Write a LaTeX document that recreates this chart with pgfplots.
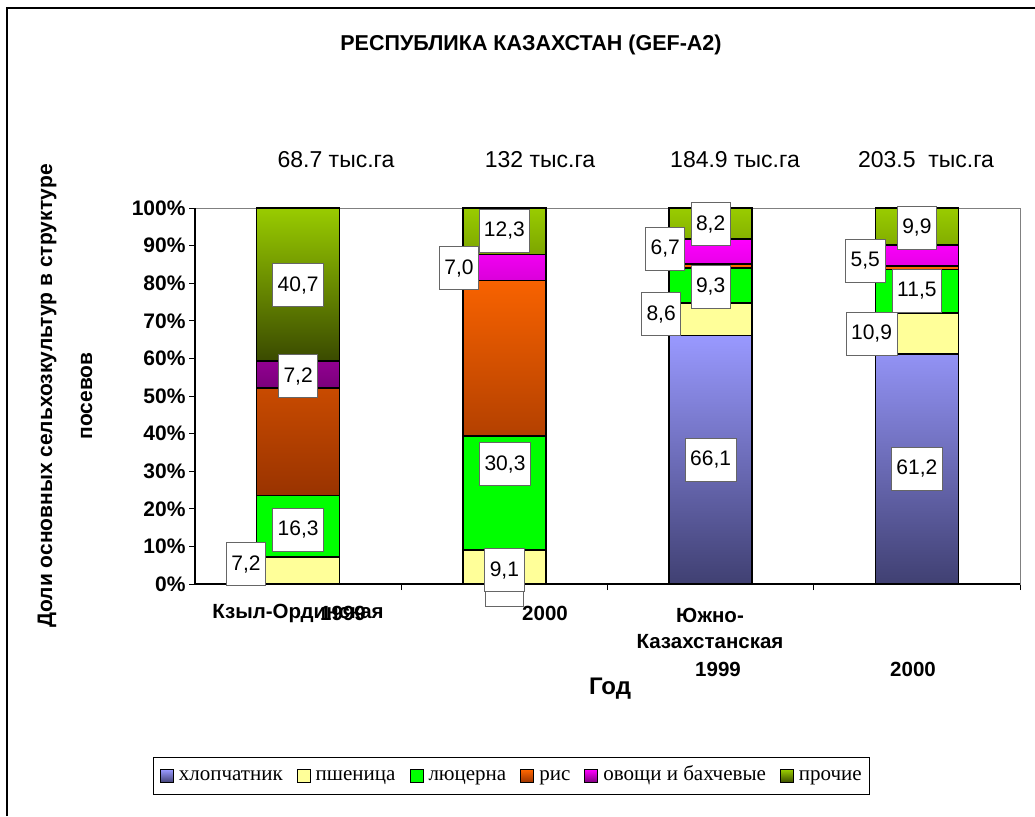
\documentclass[border=0pt]{standalone}
\usepackage{pgfplots}
\pgfplotsset{compat=1.18}
\usepackage{fontspec}
\setmainfont{Liberation Sans}
\newfontfamily\timesf{Liberation Serif}
\definecolor{cotT}{HTML}{9999FF}
\definecolor{cotB}{HTML}{404072}
\definecolor{wheat}{HTML}{FFFF99}
\definecolor{alf}{HTML}{00FF00}
\definecolor{riceT}{HTML}{FF6600}
\definecolor{riceB}{HTML}{993300}
\definecolor{vegT}{HTML}{FF00FF}
\definecolor{vegB}{HTML}{7A007A}
\definecolor{othT}{HTML}{99CC00}
\definecolor{othB}{HTML}{3A4A00}
\tikzset{lbl/.style={draw=black!60, line width=0.8pt, fill=white, minimum height=43pt, inner xsep=5pt, font=\fontsize{21}{23}\selectfont}}
\pgfplotsset{leg/.style={legend image code/.code={\draw[##1,draw=black,line width=1pt] (0pt,-6.5pt) rectangle (13pt,6.5pt);}}}
\begin{document}
\begin{tikzpicture}[x=1pt,y=1pt]
\useasboundingbox (0,0) rectangle (1035,-816);
\draw[line width=1.5pt] (7,-816) -- (7,-8) -- (1035,-8);
\begin{axis}[
  at={(195pt,-584pt)}, anchor=south west,
  scale only axis, width=825pt, height=376pt,
  ybar stacked, bar width=83pt,
  xmin=-0.5, xmax=3.5, ymin=0, ymax=100,
  xtick={0.5,1.5,2.5,3.5}, xticklabels={},
  ytick={0,10,20,30,40,50,60,70,80,90,100},
  yticklabels={0\%,10\%,20\%,30\%,40\%,50\%,60\%,70\%,80\%,90\%,100\%},
  yticklabel style={font=\bfseries\fontsize{21}{23}\selectfont},
  tick align=outside, major tick length=6pt,
  xtick pos=left, ytick pos=left,
  axis line style={draw=gray, line width=1pt},
  tick style={black, line width=0.8pt},
  clip=false,
  legend style={at={(0.384,-0.511)}, anchor=center, legend columns=6,
    draw=black, line width=0.8pt, inner xsep=6pt, inner ysep=7pt,
    font=\timesf\fontsize{21}{23}\selectfont,
    nodes={text height=14pt, text depth=5pt},
    /tikz/every odd column/.append style={column sep=3pt},
    /tikz/every even column/.append style={column sep=12pt}},
]
\addplot[leg, draw=black, line width=1.5pt, top color=cotT, bottom color=cotB] coordinates {(0,0) (1,0) (2,66.1) (3,61.2)};
\addplot[leg, draw=black, line width=1.5pt, fill=wheat] coordinates {(0,7.2) (1,9.1) (2,8.6) (3,10.9)};
\addplot[leg, draw=black, line width=1.5pt, fill=alf] coordinates {(0,16.3) (1,30.3) (2,9.3) (3,11.5)};
\addplot[leg, draw=black, line width=1.5pt, top color=riceT, bottom color=riceB] coordinates {(0,28.6) (1,41.3) (2,1.1) (3,1.0)};
\addplot[leg, draw=black, line width=1.5pt, top color=vegT, bottom color=vegB] coordinates {(0,7.2) (1,7.0) (2,6.7) (3,5.5)};
\addplot[leg, draw=black, line width=1.5pt, top color=othT, bottom color=othB] coordinates {(0,40.7) (1,12.3) (2,8.2) (3,9.9)};
\legend{хлопчатник,пшеница,люцерна,рис,овощи и бахчевые,прочие}
\coordinate (a0) at (rel axis cs:0,0);
\coordinate (a1) at (rel axis cs:0,1);
\coordinate (a2) at (rel axis cs:1,0);
% data label anchors
\coordinate (d1) at (axis cs:-0.253,5.3);
\coordinate (d2) at (axis cs:0,14.4);
\coordinate (d3) at (axis cs:0,55.3);
\coordinate (d4) at (axis cs:0,79.5);
\coordinate (d5) at (axis cs:1,-0.3);
\coordinate (d6) at (axis cs:1,3.7);
\coordinate (d7) at (axis cs:1.003,31.9);
\coordinate (d8) at (axis cs:0.78,84.0);
\coordinate (d9) at (axis cs:1,93.9);
\coordinate (d10) at (axis cs:2,33.0);
\coordinate (d11) at (axis cs:1.76,71.8);
\coordinate (d12) at (axis cs:2,79.0);
\coordinate (d13) at (axis cs:1.78,89.1);
\coordinate (d14) at (axis cs:2,95.7);
\coordinate (d15) at (axis cs:3,30.6);
\coordinate (d16) at (axis cs:2.78,66.5);
\coordinate (d17) at (axis cs:3,77.9);
\coordinate (d18) at (axis cs:2.75,85.9);
\coordinate (d19) at (axis cs:3,94.7);
\end{axis}
\draw[black, line width=1.2pt] (a1) -- (a0) -- (a2);
\node[lbl] at (d1) {7,2};
\node[lbl] at (d2) {16,3};
\node[lbl] at (d3) {7,2};
\node[lbl] at (d4) {40,7};
\node[lbl, minimum width=38pt] at (d5) {};
\node[lbl] at (d6) {9,1};
\node[lbl] at (d7) {30,3};
\node[lbl] at (d8) {7,0};
\node[lbl] at (d9) {12,3};
\node[lbl] at (d10) {66,1};
\node[lbl] at (d11) {8,6};
\node[lbl] at (d12) {9,3};
\node[lbl] at (d13) {6,7};
\node[lbl] at (d14) {8,2};
\node[lbl] at (d15) {61,2};
\node[lbl] at (d16) {10,9};
\node[lbl] at (d17) {11,5};
\node[lbl] at (d18) {5,5};
\node[lbl] at (d19) {9,9};
% title and annotations
\node[font=\bfseries\fontsize{21.5}{24}\selectfont] at (531,-45) {РЕСПУБЛИКА КАЗАХСТАН (GEF-A2)};
\begin{scope}[every node/.style={font=\fontsize{23}{26}\selectfont}]
\node at (336,-160) {68.7 тыс.га};
\node at (540,-160) {132 тыс.га};
\node at (735,-160) {184.9 тыс.га};
\node at (926,-160) {203.5\ \ тыс.га};
\end{scope}
\begin{scope}[every node/.style={font=\bfseries\fontsize{20.5}{23}\selectfont}]
\node at (298,-613) {Кзыл-Ординская};
\node at (343,-613) {1999};
\node at (545,-613) {2000};
\node at (710,-615) {Южно-};
\node at (710,-642) {Казахстанская};
\node at (718,-669) {1999};
\node at (913,-669) {2000};
\end{scope}
\node[font=\bfseries\fontsize{24}{28}\selectfont] at (610,-689) {Год};
\node[rotate=90, align=center, font=\bfseries\fontsize{21}{40}\selectfont] at (65,-396) {Доли основных сельхозкультур в структуре\\посевов};
\end{tikzpicture}
\end{document}
